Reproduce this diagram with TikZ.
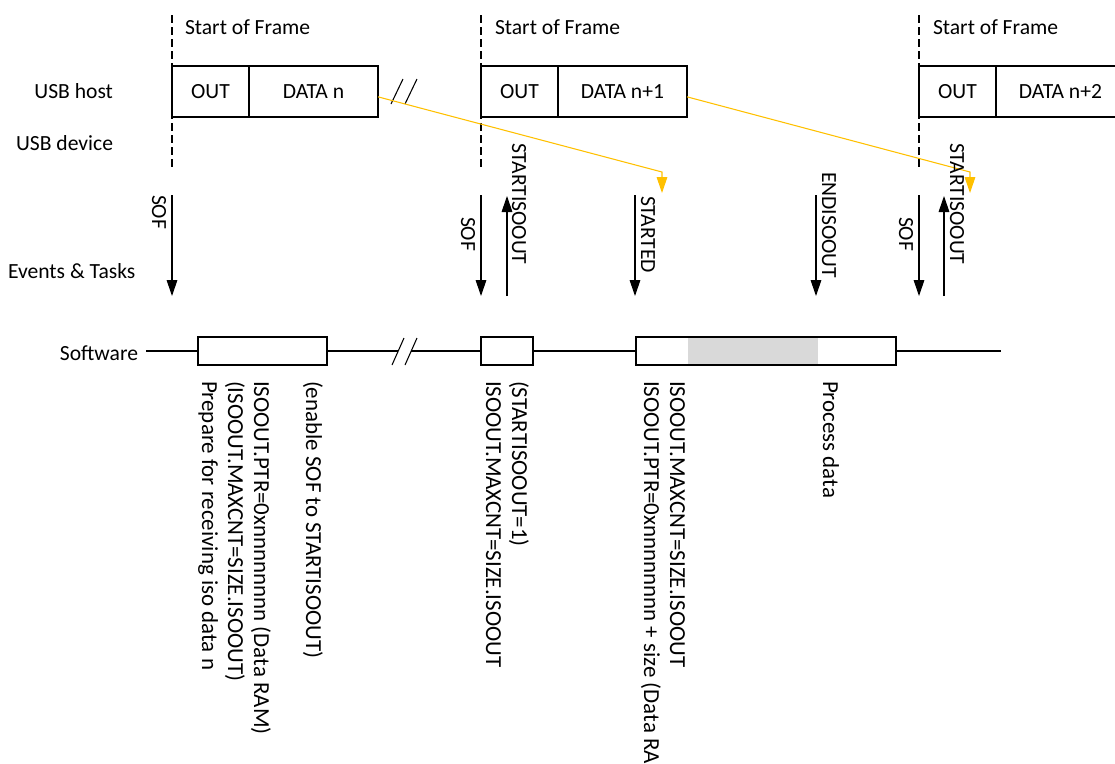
\documentclass[tikz,border=0pt]{standalone}
\usepackage{fontspec}
\setmainfont{Carlito}
\usepackage{tikz}
\usetikzlibrary{arrows.meta,positioning}
\definecolor{gold}{HTML}{FFC000}
\definecolor{busygray}{HTML}{D9D9D9}

\begin{document}
\begin{tikzpicture}[x=0.75pt,y=-0.75pt,
  every node/.style={font=\fontsize{16.2}{19.5}\selectfont,inner sep=0pt,outer sep=0pt},
  cell/.style={rectangle,draw,line width=0.8pt,minimum height=38.25pt},
  swbox/.style={rectangle,draw,line width=0.8pt,minimum height=21pt},
  frameline/.style={dash pattern=on 6pt off 3pt,line width=0.8pt},
  evt/.style={-{Triangle[length=12pt,width=8pt]},line width=0.8pt},
  rx/.style={-{Triangle[length=12pt,width=8pt]},gold,line width=0.8pt},
  vlabel/.style={rotate=-90,anchor=base west},
  vblock/.style={rotate=-90,anchor=north west,align=left,font=\fontsize{17.2}{19.5}\selectfont}]
\useasboundingbox (0,0) rectangle (1115,764);

% row labels
\node[anchor=base east] (host) at (113,98) {USB host};
\node[anchor=base east] (dev) at (113,150) {USB device};
\node[anchor=base west] (evts) at (8,278) {Events \& Tasks};
\node[anchor=base east] (swl) at (138,360) {Software};

% frame starts
\draw[frameline] (172,15) -- (172,168);
\draw[frameline] (481,15) -- (481,168);
\draw[frameline] (919,15) -- (919,168);
\node[anchor=base west] (sof1t) at (185,34) {Start of Frame};
\node[anchor=base west] (sof2t) at (495,34) {Start of Frame};
\node[anchor=base west] (sof3t) at (933,34) {Start of Frame};

% host packets
\node[cell,minimum width=57.75pt] (out1) at (210.5,91.5) {OUT};
\node[cell,minimum width=96.75pt,right=0pt of out1] (data1) {DATA n};
\node[cell,minimum width=57.75pt] (out2) at (519.5,91.5) {OUT};
\node[cell,minimum width=96.75pt,right=0pt of out2] (data2) {DATA n+1};
\node[cell,minimum width=57.75pt] (out3) at (957.5,91.5) {OUT};
\node[cell,minimum width=96.75pt,right=0pt of out3] (data3) {DATA n+2};
\draw[line width=0.8pt] (391,104) -- (403,79);
\draw[line width=0.8pt] (405,104) -- (417,79);

% data received by the device
\coordinate (bend1) at (662,172);
\coordinate (rx1) at (662,193);
\coordinate (bend2) at (970,172);
\coordinate (rx2) at (970,193);
\draw[rx] ([yshift=-4pt]data1.east) -- (bend1) -- (rx1);
\draw[rx] ([yshift=-4pt]data2.east) -- (bend2) -- (rx2);

% events and tasks
\draw[evt] (172,195) -- (172,296);
\node[vlabel] (sof1) at (152,195) {SOF};
\draw[evt] (481,195) -- (481,296);
\node[vlabel] (sof2) at (461,217) {SOF};
\draw[evt] (507,296) -- (507,196);
\node[vlabel] (start1) at (512,143) {STARTISOOUT};
\draw[evt] (635,195) -- (635,296);
\node[vlabel] (started) at (641,196) {STARTED};
\draw[evt] (816,195) -- (816,296);
\node[vlabel] (endiso) at (822,172) {ENDISOOUT};
\draw[evt] (919,195) -- (919,296);
\node[vlabel] (sof3) at (899,217) {SOF};
\draw[evt] (944,296) -- (944,196);
\node[vlabel] (start2) at (950,143) {STARTISOOUT};

% software time line
\fill[busygray] (688,337) rectangle (818,365);
\node[swbox,minimum width=96.75pt] (sw1) at (262.5,351) {};
\node[swbox,minimum width=39pt] (sw2) at (507,351) {};
\node[swbox,minimum width=195pt] (sw3) at (766,351) {};
\coordinate (swstart) at (146,351);
\coordinate (brkl) at (398,351);
\coordinate (brkr) at (411,351);
\coordinate (swend) at (1001,351);
\draw[line width=0.8pt] (swstart) -- (sw1.west);
\draw[line width=0.8pt] (sw1.east) -- (brkl);
\draw[line width=0.8pt] (brkr) -- (sw2.west);
\draw[line width=0.8pt] (sw2.east) -- (sw3.west);
\draw[line width=0.8pt] (sw3.east) -- (swend);
\draw[line width=0.8pt] (392,365) -- (404,338);
\draw[line width=0.8pt] (405,365) -- (417,338);

% software steps
\node[vblock] (step1) at (323,381) {(enable SOF to STARTISOOUT)\\[19.5pt]
  ISOOUT.PTR=0xnnnnnnnn (Data RAM)\\(ISOOUT.MAXCNT=SIZE.ISOOUT)\\Prepare for receiving iso data n};
\node[vblock] (step2) at (529,381) {(STARTISOOUT=1)\\ISOOUT.MAXCNT=SIZE.ISOOUT};
\node[vblock] (step3) at (685,381) {ISOOUT.MAXCNT=SIZE.ISOOUT\\ISOOUT.PTR=0xnnnnnnnn + size (Data RAM)};
\node[vblock] (step4) at (839,381) {Process data};
\end{tikzpicture}
\end{document}
